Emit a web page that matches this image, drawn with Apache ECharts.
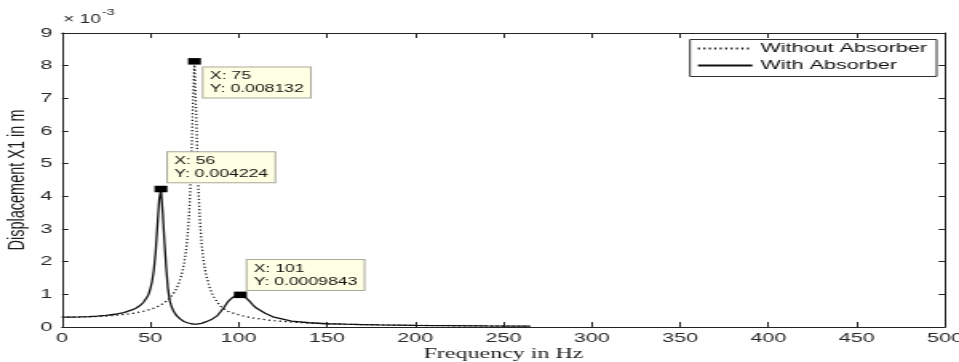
<!DOCTYPE html>
<html><head><meta charset="utf-8">
<script src="https://cdn.jsdelivr.net/npm/echarts/dist/echarts.min.js"></script>
<style>
html,body{margin:0;padding:0;background:#fff;overflow:hidden;}
#wrap{width:959px;height:362px;overflow:hidden;position:relative;}
#chart{width:600px;height:362px;transform:scaleX(1.598333);transform-origin:0 0;}
</style></head><body>
<div id="wrap"><div id="chart"></div></div>
<script>
// Frequency (Hz)
const freq = [0,5,10,15,20,25,30,35,40,42,44,46,48,49,50,51,52,53,54,55,56,57,58,59,60,61,62,63,64,65,66,67,68,69,70,71,72,73,74,75,76,77,78,79,80,81,82,83,84,85,86,88,90,92,94,96,97,98,99,100,101,102,103,104,105,106,108,110,115,120,130,140,150,160,170,180,200,220,240,265];
// Displacement X1 (x 10^-3 m)
const withoutAbsorber = [0.300,0.301,0.305,0.313,0.323,0.337,0.357,0.383,0.420,0.437,0.457,0.481,0.508,0.523,0.540,0.558,0.578,0.600,0.623,0.649,0.678,0.710,0.746,0.787,0.833,0.886,0.948,1.02,1.10,1.20,1.33,1.48,1.67,1.92,2.26,2.74,3.49,4.70,6.66,8.132,6.50,4.57,3.34,2.58,2.09,1.75,1.52,1.32,1.15,1.02,0.92,0.75,0.63,0.55,0.48,0.44,0.42,0.405,0.39,0.375,0.36,0.345,0.333,0.32,0.308,0.297,0.278,0.26,0.222,0.193,0.15,0.121,0.10,0.085,0.073,0.063,0.049,0.039,0.032,0.026];
const withAbsorber = [0.300,0.302,0.308,0.318,0.333,0.356,0.390,0.442,0.53,0.58,0.65,0.75,0.90,1.00,1.17,1.40,1.75,2.30,3.10,3.90,4.224,3.50,2.60,1.80,1.15,0.80,0.62,0.50,0.41,0.34,0.29,0.24,0.20,0.17,0.15,0.13,0.115,0.10,0.092,0.09,0.09,0.092,0.10,0.11,0.13,0.15,0.17,0.19,0.21,0.24,0.27,0.35,0.48,0.62,0.78,0.88,0.92,0.95,0.97,0.98,0.9843,0.97,0.94,0.90,0.85,0.80,0.68,0.58,0.42,0.30,0.18,0.13,0.10,0.085,0.075,0.065,0.05,0.042,0.034,0.028];
// Data tips
const tipWithoutX = [75];
const tipWithoutY = [8.132];
const tipWithX = [56, 101];
const tipWithY = [4.224, 0.9843];
const seriesNames = ['Without Absorber', 'With Absorber'];
const xTitle = 'Frequency in Hz';
const yTitle = 'Displacement X1 in m';
const expBase = '\u00d7 10';
const expPower = '-3';

const pairs = ys => freq.map((f, i) => [f, ys[i]]);
const tipLabel = (x, y) => 'X: ' + x + '\nY: ' + (y / 1000).toPrecision(4);

const chart = echarts.init(document.getElementById('chart'), null, {renderer: 'canvas', width: 600, height: 362});
const axisCol = '#222';
const font = 'Liberation Sans, Arial, sans-serif';
const tipStyle = {
  show: true, color: '#111', fontSize: 11, lineHeight: 13, fontFamily: font,
  backgroundColor: '#ffffe3', borderColor: '#a9a99c', borderWidth: 1, padding: [2, 4, 2, 4],
  align: 'left', verticalAlign: 'top'
};
const tipPos = [[9.7, 9.5], [8.4, -33.5], [8.4, -31.5]];

const option = {
  animation: false,
  backgroundColor: '#fff',
  grid: {left: 38.8, right: 8.8, top: 33, bottom: 35, containLabel: false, outerBoundsMode: 'none'},
  xAxis: [{
    type: 'value', min: 0, max: 500, interval: 50,
    axisLine: {onZero: false, lineStyle: {color: axisCol, width: 1}},
    axisTick: {inside: true, length: 5, lineStyle: {color: axisCol}},
    axisLabel: {color: '#2a2a2a', fontSize: 13.5, fontFamily: font, margin: 4, hideOverlap: false},
    splitLine: {show: false},
    name: xTitle, nameLocation: 'middle', nameGap: 20, nameMoveOverlap: false,
    nameTextStyle: {fontFamily: 'Liberation Serif, Times New Roman, serif', fontSize: 15, color: '#1a1a1a'}
  }, {
    type: 'value', position: 'top', min: 0, max: 500, interval: 50,
    axisLine: {onZero: false, lineStyle: {color: axisCol, width: 1}},
    axisTick: {inside: true, length: 5, lineStyle: {color: axisCol}},
    axisLabel: {show: false}, splitLine: {show: false}
  }],
  yAxis: [{
    type: 'value', min: 0, max: 9, interval: 1,
    axisLine: {onZero: false, lineStyle: {color: axisCol, width: 1}},
    axisTick: {inside: true, length: 4, lineStyle: {color: axisCol}},
    axisLabel: {color: '#2a2a2a', fontSize: 13.5, fontFamily: font, margin: 6},
    splitLine: {show: false},
    name: yTitle, nameLocation: 'middle', nameGap: 20, nameMoveOverlap: false,
    nameTextStyle: {fontFamily: font, fontSize: 14.5, color: '#1a1a1a'}
  }, {
    type: 'value', position: 'right', min: 0, max: 9, interval: 1,
    axisLine: {onZero: false, lineStyle: {color: axisCol, width: 1}},
    axisTick: {inside: true, length: 4, lineStyle: {color: axisCol}},
    axisLabel: {show: false}, splitLine: {show: false}
  }],
  legend: {
    orient: 'vertical', left: 431.7, top: 39.5,
    data: seriesNames,
    itemStyle: {opacity: 0},
    borderColor: '#333', borderWidth: 1, borderRadius: 0,
    padding: [2, 6, 4, 4], itemGap: 3, itemWidth: 34, itemHeight: 14,
    textStyle: {fontSize: 13.5, fontFamily: font, color: '#111'}
  },
  graphic: [
    {type: 'text', x: 39.5, y: 14, style: {text: expBase, fontSize: 12, fontFamily: font, fill: '#2a2a2a'}},
    {type: 'text', x: 63.8, y: 8, style: {text: expPower, fontSize: 9, fontFamily: font, fill: '#2a2a2a'}}
  ],
  series: [{
    name: seriesNames[0], type: 'line', data: pairs(withoutAbsorber),
    symbol: 'none', smooth: false,
    lineStyle: {color: '#111', width: 1.3, type: [1.2, 2.2]},
    itemStyle: {color: '#111'},
    markPoint: {
      symbol: 'rect', symbolSize: [8.1, 6.5], itemStyle: {color: '#000'},
      data: tipWithoutX.map((x, i) => ({coord: [x, tipWithoutY[i]],
        label: Object.assign({}, tipStyle, {position: tipPos[0], formatter: tipLabel(x, tipWithoutY[i])})}))
    }
  }, {
    name: seriesNames[1], type: 'line', data: pairs(withAbsorber),
    symbol: 'none', smooth: false,
    lineStyle: {color: '#111', width: 1.3, type: 'solid'},
    itemStyle: {color: '#111'},
    markPoint: {
      symbol: 'rect', symbolSize: [8.1, 6.5], itemStyle: {color: '#000'},
      data: tipWithX.map((x, i) => ({coord: [x, tipWithY[i]],
        label: Object.assign({}, tipStyle, {position: tipPos[i + 1], formatter: tipLabel(x, tipWithY[i])})}))
    }
  }]
};
chart.setOption(option);
</script>
</body></html>
